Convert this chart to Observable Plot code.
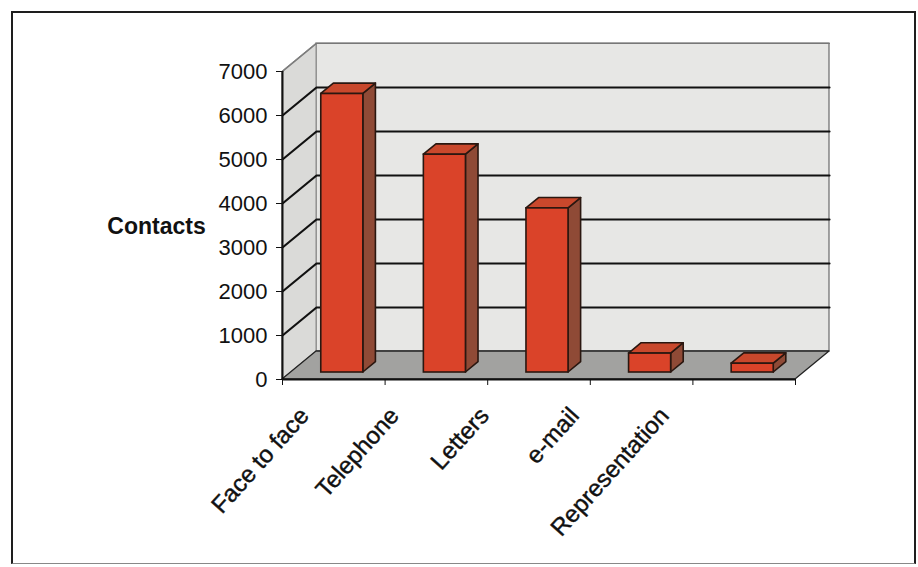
<!DOCTYPE html>
<html>
<head>
<meta charset="utf-8">
<script src="https://cdn.jsdelivr.net/npm/d3@7"></script>
<script src="https://cdn.jsdelivr.net/npm/@observablehq/plot@0.6"></script>
<style>
  html, body { margin: 0; padding: 0; background: #fff; width: 918px; height: 567px; overflow: hidden; }
  #frame { position: absolute; left: 11px; top: 11px; width: 901px; height: 550px;
           border: 2.5px solid #1e1e1e; border-bottom: 1.5px solid #888; box-sizing: content-box; }
  #chart { position: absolute; left: 0; top: 0; }
</style>
</head>
<body>
<div id="frame"></div>
<div id="chart"></div>
<script>
// ---- data ----
const categories = ["Face to face", "Telephone", "Letters", "e-mail", "Representation"];
const contacts = [6330, 4950, 3730, 430, 200];
const yTicks = [0, 1000, 2000, 3000, 4000, 5000, 6000, 7000];
const yTitle = "Contacts";

// ---- 3D projection (depth expressed in data units of the x/y scales) ----
const n = categories.length;
const kx = 0.3314;   // depth shift along x (band units)
const ky = 636;      // depth shift along y (value units)
const d1 = 0.25, d2 = 0.62;   // bar front/back depth fractions
const half = 0.205;           // half bar width (band units)
const yMax = yTicks[yTicks.length - 1];

const bars = categories.map((c, i) => ({c, v: contacts[i], xl: i + 0.5 - half, xr: i + 0.5 + half}));
const topRows = bars.flatMap((b, i) => [
  {id: i, y: b.v + d1 * ky, x1: b.xl + d1 * kx, x2: b.xr + d1 * kx},
  {id: i, y: b.v + d2 * ky, x1: b.xl + d2 * kx, x2: b.xr + d2 * kx}
]);
const sideRows = bars.flatMap((b, i) => [
  {id: i, x: b.xr + d1 * kx, y1: d1 * ky, y2: b.v + d1 * ky},
  {id: i, x: b.xr + d2 * kx, y1: d2 * ky, y2: b.v + d2 * ky}
]);
const floorRows = [{y: 0, x1: 0, x2: n}, {y: ky, x1: kx, x2: n + kx}];
const sideWallRows = [{x: 0, y1: 0, y2: yMax}, {x: kx, y1: ky, y2: yMax + ky}];
const gridRows = yTicks.filter(v => v > 0 && v < yMax).flatMap(v => [
  {id: v, x: 0, y: v}, {id: v, x: kx, y: v + ky}, {id: v, x: n + kx, y: v + ky}
]);
const topEdgeRows = [{x: 0, y: yMax}, {x: kx, y: yMax + ky}, {x: n + kx, y: yMax + ky}];

const font = "'Liberation Sans', Arial, sans-serif";
const outline = "#2a1710";

const chart = Plot.plot({
  width: 918,
  height: 567,
  marginLeft: 282,
  marginRight: 918 - 282 - 6 * 102.6,
  marginTop: 27,
  marginBottom: 188,
  style: {fontFamily: font, fontSize: "22px", color: "#111", background: "transparent", overflow: "visible"},
  x: {type: "linear", domain: [0, 6], axis: null},
  y: {type: "linear", domain: [0, 8000], axis: null},
  marks: [
    // back wall
    Plot.rect([0], {x1: () => kx, x2: () => n + kx, y1: () => ky, y2: () => yMax + ky,
      fill: "#e7e7e5", stroke: "#6a6a6a", strokeWidth: 1.2}),
    // left side wall
    Plot.areaY(sideWallRows, {x: "x", y1: "y1", y2: "y2", fill: "#dadad8", stroke: "#8a8a8a", strokeWidth: 1}),
    // floor
    Plot.areaX(floorRows, {y: "y", x1: "x1", x2: "x2", fill: "#a2a2a0", stroke: "#222", strokeWidth: 1.3}),
    // gridlines
    Plot.line(gridRows, {x: "x", y: "y", z: "id", stroke: "#111", strokeWidth: 2.2}),
    Plot.line(topEdgeRows, {x: "x", y: "y", stroke: "#777", strokeWidth: 1.2}),
    // bars: side, top, front
    Plot.areaY(sideRows, {x: "x", y1: "y1", y2: "y2", z: "id", fill: "#8f4a36", stroke: outline, strokeWidth: 1.6}),
    Plot.areaX(topRows, {y: "y", x1: "x1", x2: "x2", z: "id", fill: "#c9482c", stroke: outline, strokeWidth: 1.6}),
    Plot.rect(bars, {x1: d => d.xl + d1 * kx, x2: d => d.xr + d1 * kx, y1: () => d1 * ky, y2: d => d.v + d1 * ky,
      fill: "#da4329", stroke: outline, strokeWidth: 1.6}),
    // axes
    Plot.ruleX([0], {y1: 0, y2: yMax, stroke: "#111", strokeWidth: 2}),
    Plot.ruleY([0], {x1: 0, x2: n, stroke: "#111", strokeWidth: 2}),
    Plot.axisY({ticks: yTicks, tickSize: 6, tickPadding: 9, tickFormat: d => String(d), label: null,
      fontSize: 22, stroke: "#111"}),
    Plot.axisX({ticks: d3.range(n + 1), tickSize: 6, tickFormat: () => "", label: null, stroke: "#111"}),
    // y title
    Plot.text([yTitle], {frameAnchor: "left", dx: -126, dy: 23, fontWeight: "bold", fontSize: 23, textAnchor: "middle"}),
    // category labels
    Plot.text(categories, {x: (d, i) => 0.215 + 0.877 * i, y: () => 0, dy: 32, rotate: -48,
      textAnchor: "end", fontSize: 24, fill: "#111", stroke: "#111", strokeWidth: 0.4})
  ]
});
document.getElementById("chart").appendChild(chart);
</script>
</body>
</html>
